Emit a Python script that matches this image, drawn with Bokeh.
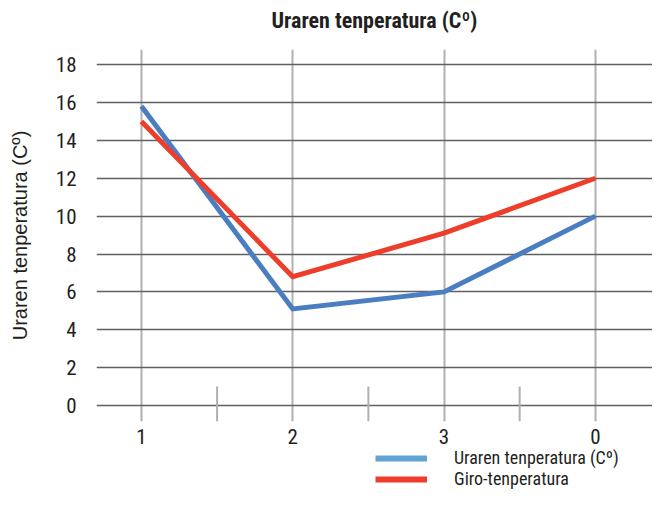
from bokeh.plotting import figure
from bokeh.models import FixedTicker, Range1d, Legend, LegendItem, Title
from bokeh.layouts import column
from bokeh.embed import file_html
from bokeh.resources import INLINE

categories = ["1", "2", "3", "0"]
uraren = [15.8, 5.1, 6.0, 10.0]
giro = [15.0, 6.8, 9.1, 12.0]
y_ticks = [0, 2, 4, 6, 8, 10, 12, 14, 16, 18]
title_text = "Uraren tenperatura (Cº)"
series_names = ["Uraren tenperatura (Cº)", "Giro-tenperatura"]

NARROW = "'Roboto Condensed', 'DejaVu Sans Condensed', 'Liberation Sans Narrow', Roboto"
BLUE = "#4a7ec0"
BLUE_LEG = "#62a3d6"
RED = "#ee3d2b"
INK = "#231f20"

xs = list(range(len(categories)))
Y_BOTTOM = -0.845

p = figure(width=652, height=447, output_backend="svg", toolbar_location=None,
           x_range=Range1d(-0.297, 3.378), y_range=Range1d(Y_BOTTOM, 18.80),
           min_border_left=96, min_border_right=0, min_border_top=49,
           min_border_bottom=26)
p.outline_line_color = None
p.background_fill_color = "white"
p.border_fill_color = "white"

p.title.text = title_text
p.title.align = "center"
p.title.vertical_align = "bottom"
p.title.text_font = NARROW
p.title.text_font_size = "22px"
p.title.text_font_style = "bold"
p.title.text_color = INK
p.title.standoff = 0

# blank spacer between the title and the plot area
p.add_layout(Title(text=" ", text_font_size="13px", standoff=0), "above")

# axes
p.xaxis.ticker = FixedTicker(ticks=xs)
p.xaxis.major_label_overrides = {i: c for i, c in enumerate(categories)}
p.yaxis.ticker = FixedTicker(ticks=y_ticks)
for ax in (p.xaxis, p.yaxis):
    ax.axis_line_color = None
    ax.major_tick_line_color = None
    ax.minor_tick_line_color = None
    ax.major_tick_out = 0
    ax.major_tick_in = 0
    ax.major_label_text_font = NARROW
    ax.major_label_text_font_size = "21px"
    ax.major_label_text_color = INK
p.xaxis.major_label_standoff = 7
p.yaxis.major_label_standoff = 20
p.yaxis.axis_label = title_text
p.yaxis.axis_label_text_font = "Liberation Sans"
p.yaxis.axis_label_text_font_size = "20px"
p.yaxis.axis_label_text_font_style = "normal"
p.yaxis.axis_label_text_color = INK
p.yaxis.axis_label_standoff = 22

# grids
p.ygrid.ticker = FixedTicker(ticks=y_ticks)
p.ygrid.grid_line_color = "#606060"
p.ygrid.grid_line_width = 1.6
p.xgrid.ticker = FixedTicker(ticks=xs)
p.xgrid.grid_line_color = "#b0b0b0"
p.xgrid.grid_line_width = 2

# minor ticks between categories
mids = [i + 0.5 for i in xs[:-1]]
p.segment(x0=mids, y0=[Y_BOTTOM] * len(mids), x1=mids, y1=[1] * len(mids),
          line_color="#b0b0b0", line_width=2)

p.line(xs, uraren, line_color=BLUE, line_width=5, line_join="miter")
p.line(xs, giro, line_color=RED, line_width=5, line_join="miter")

# legend strip below the chart
lg = figure(width=652, height=42, output_backend="svg", toolbar_location=None,
            x_range=Range1d(0, 1), y_range=Range1d(0, 1),
            x_axis_location=None, y_axis_location=None,
            min_border_left=0, min_border_right=0,
            min_border_top=0, min_border_bottom=0)
lg.grid.visible = False
lg.outline_line_color = None
lb = lg.line([-10, -9], [-10, -10], line_color=BLUE_LEG, line_width=6)
lr = lg.line([-10, -9], [-10, -10], line_color=RED, line_width=6)
legend = Legend(items=[LegendItem(label=series_names[0], renderers=[lb]),
                       LegendItem(label=series_names[1], renderers=[lr])],
                location=(279, 0), orientation="vertical",
                label_text_font=NARROW, label_text_font_size="18px",
                label_text_color=INK,
                glyph_width=52, glyph_height=20, label_height=20,
                label_standoff=27, spacing=0, padding=0, margin=0,
                border_line_color=None, background_fill_alpha=0)
lg.add_layout(legend, "center")

layout = column(p, lg, spacing=0)
open("out.html", "w").write(file_html(layout, INLINE))
